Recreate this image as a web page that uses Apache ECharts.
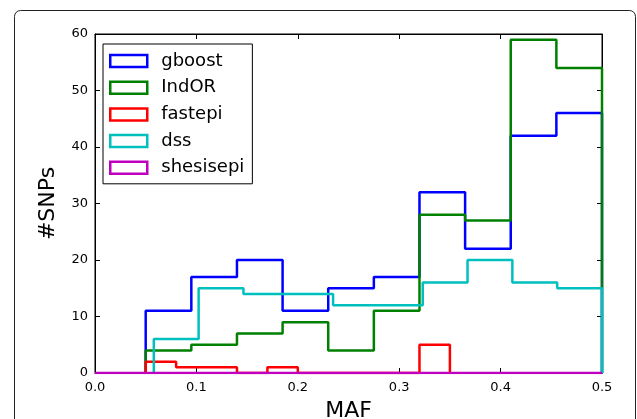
<!DOCTYPE html>
<html>
<head>
<meta charset="utf-8">
<script src="https://cdn.jsdelivr.net/npm/echarts@6/dist/echarts.min.js"></script>
<style>
html,body{margin:0;padding:0;background:#fff;}
#chart{width:637px;height:419px;}
</style>
</head>
<body>
<div id="chart"></div>
<script>
// ---- data ----
const seriesNames = ['gboost', 'IndOR', 'fastepi', 'dss', 'shesisepi'];
const seriesColors = ['#0000ff', '#008000', '#ff0000', '#00bfbf', '#bf00bf'];

const gboostEdges = [0.05, 0.095, 0.14, 0.185, 0.23, 0.275, 0.32, 0.365, 0.41, 0.455, 0.5];
const gboostCounts = [11, 17, 20, 11, 15, 17, 32, 22, 42, 46];

const indorEdges = [0.05, 0.095, 0.14, 0.185, 0.23, 0.275, 0.32, 0.365, 0.41, 0.455, 0.5];
const indorCounts = [4, 5, 7, 9, 4, 11, 28, 27, 59, 54];

const fastepiEdges = [0.05, 0.08, 0.11, 0.14, 0.17, 0.2, 0.23, 0.26, 0.29, 0.32, 0.35];
const fastepiCounts = [2, 1, 1, 0, 1, 0, 0, 0, 0, 5];

const dssEdges = [0.058, 0.1022, 0.1464, 0.1906, 0.2348, 0.279, 0.3232, 0.3674, 0.4116, 0.4558, 0.5];
const dssCounts = [6, 15, 14, 14, 12, 12, 16, 20, 16, 15];

const shesisepiEdges = [0.0, 0.5];
const shesisepiCounts = [0];

const xTicks = [0.0, 0.1, 0.2, 0.3, 0.4, 0.5];
const yTicks = [0, 10, 20, 30, 40, 50, 60];

// ---- build step outlines (matplotlib histtype='step') ----
function stepPoints(edges, counts) {
  const pts = [[edges[0], 0]];
  for (let i = 0; i < counts.length; i++) {
    pts.push([edges[i], counts[i]]);
    pts.push([edges[i + 1], counts[i]]);
  }
  pts.push([edges[edges.length - 1], 0]);
  return pts;
}
const allEdges = [gboostEdges, indorEdges, fastepiEdges, dssEdges, shesisepiEdges];
const allCounts = [gboostCounts, indorCounts, fastepiCounts, dssCounts, shesisepiCounts];

const FONT = 'DejaVu Sans';
const chart = echarts.init(document.getElementById('chart'), null, {renderer: 'canvas'});

function tickStyle() { return {show: true, inside: true, length: 5, lineStyle: {color: '#000', width: 1}}; }
function lineStyleAxis() { return {show: true, onZero: false, lineStyle: {color: '#000', width: 1}}; }

const option = {
  backgroundColor: '#fff',
  animation: false,
  graphic: [{
    type: 'rect', silent: true, z: -10,
    shape: {x: 14.5, y: 10.5, width: 621, height: 460, r: 6},
    style: {fill: 'none', stroke: '#222', lineWidth: 1}
  }],
  grid: {
    left: 95, right: 35, top: 34, bottom: 46,
    show: true, borderColor: '#000', borderWidth: 1,
    outerBoundsMode: 'none'
  },
  legend: {
    orient: 'vertical', left: 103, top: 44,
    padding: [8, 8, 7, 6],
    backgroundColor: '#fff',
    borderColor: '#000', borderWidth: 1, borderRadius: 0,
    itemWidth: 37, itemHeight: 12, itemGap: 8.7,
    icon: 'rect',
    textStyle: {fontFamily: FONT, fontSize: 18, color: '#000', padding: [0, 0, 0, 9]},
    data: seriesNames.map((n, i) => ({
      name: n,
      itemStyle: {color: 'rgba(255,255,255,0)', borderColor: seriesColors[i], borderWidth: 2.5}
    }))
  },
  xAxis: [
    {
      type: 'value', position: 'bottom',
      min: xTicks[0], max: xTicks[xTicks.length - 1], interval: 0.1,
      splitLine: {show: false}, axisLine: lineStyleAxis(), axisTick: tickStyle(),
      name: 'MAF', nameLocation: 'middle', nameGap: 27,
      nameTextStyle: {fontFamily: FONT, fontSize: 22, color: '#000'},
      axisLabel: {fontFamily: FONT, fontSize: 13, color: '#000', margin: 8,
        formatter: v => v.toFixed(1)}
    },
    {
      type: 'value', position: 'top',
      min: xTicks[0], max: xTicks[xTicks.length - 1], interval: 0.1,
      splitLine: {show: false}, axisLine: lineStyleAxis(), axisTick: tickStyle(),
      axisLabel: {show: false}
    }
  ],
  yAxis: [
    {
      type: 'value', position: 'left',
      min: yTicks[0], max: yTicks[yTicks.length - 1], interval: 10,
      splitLine: {show: false}, axisLine: lineStyleAxis(), axisTick: tickStyle(),
      name: '#SNPs', nameLocation: 'middle', nameGap: 36,
      nameTextStyle: {fontFamily: FONT, fontSize: 22, color: '#000'},
      axisLabel: {fontFamily: FONT, fontSize: 13, color: '#000', margin: 7}
    },
    {
      type: 'value', position: 'right',
      min: yTicks[0], max: yTicks[yTicks.length - 1], interval: 10,
      splitLine: {show: false}, axisLine: lineStyleAxis(), axisTick: tickStyle(),
      axisLabel: {show: false}
    }
  ],
  series: seriesNames.map((n, i) => ({
    name: n,
    type: 'line',
    xAxisIndex: 0, yAxisIndex: 0,
    data: stepPoints(allEdges[i], allCounts[i]),
    showSymbol: false, symbol: 'none',
    clip: true,
    lineStyle: {color: seriesColors[i], width: 2.5},
    itemStyle: {color: seriesColors[i]},
    z: 2 + i
  }))
};
chart.setOption(option);
</script>
</body>
</html>
